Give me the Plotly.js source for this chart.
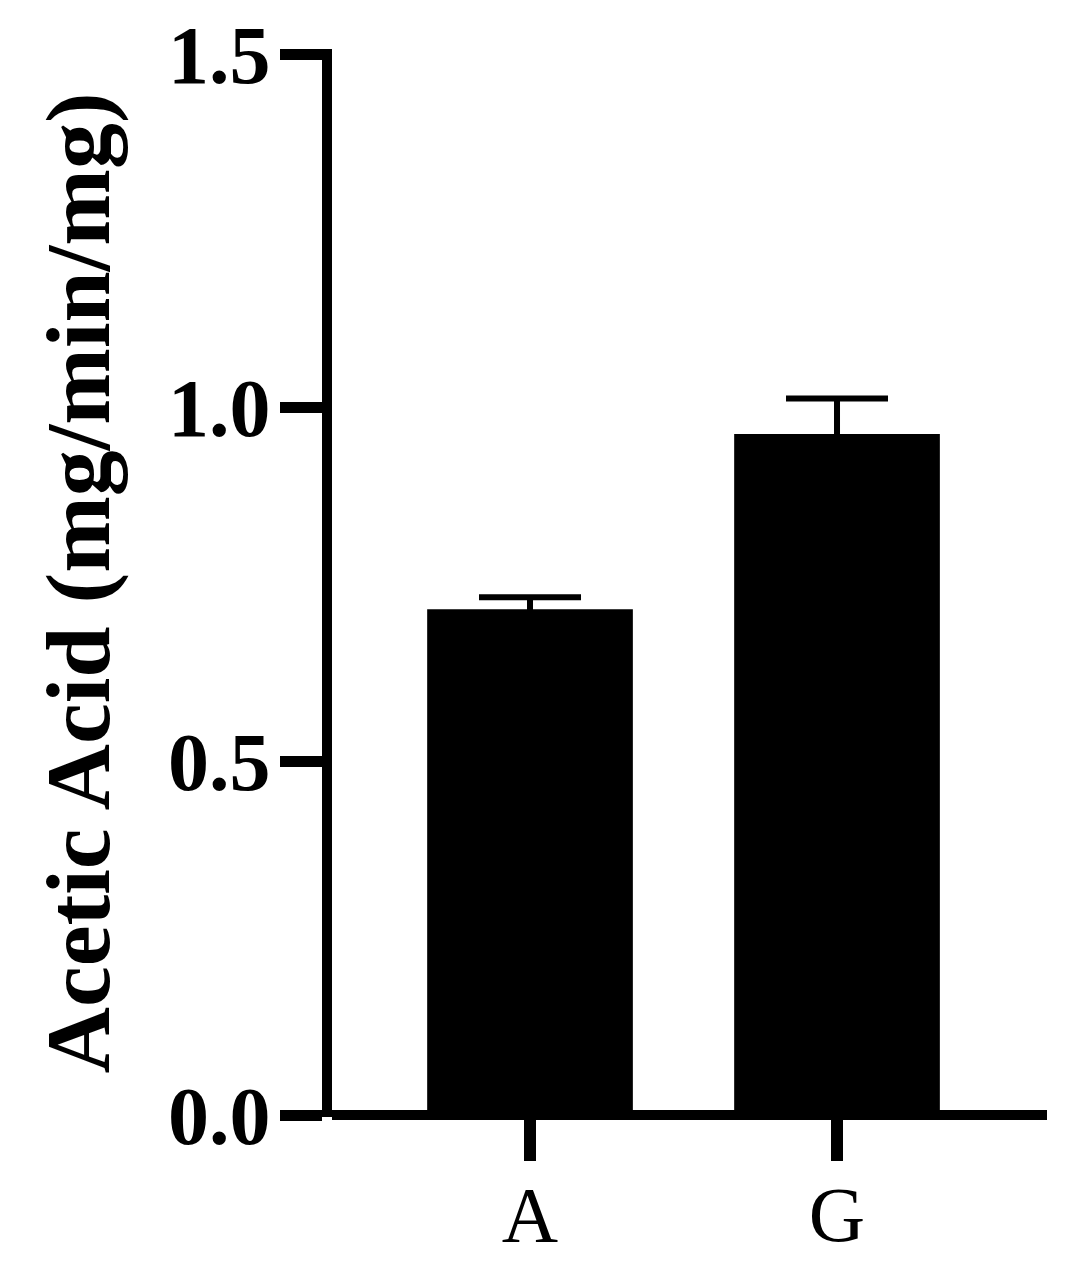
<!DOCTYPE html>
<html>
<head>
<meta charset="utf-8">
<script src="https://cdn.plot.ly/plotly-3.0.1.min.js"></script>
<style>html,body{margin:0;padding:0;background:#fff;}#chart{width:1070px;height:1279px;}</style>
</head>
<body>
<div id="chart"></div>
<script>
const categories = ['A', 'G'];
const acetic = [0.715, 0.963];
const aceticErr = [0.017, 0.050];
const yTicks = [0, 0.5, 1.0, 1.5];
const yTickText = ['0.0', '0.5', '1.0', '1.5'];
const yTitle = 'Acetic Acid (mg/min/mg)';

const trace = {
  type: 'bar',
  x: categories,
  y: acetic,
  marker: {color: '#000', line: {width: 0}},
  error_y: {type: 'data', array: aceticErr, visible: true, color: '#000', thickness: 6, width: 51},
  hoverinfo: 'skip'
};

const layout = {
  width: 1070, height: 1279,
  margin: {l: 332, r: 23, t: 49, b: 162, pad: 0},
  paper_bgcolor: '#fff', plot_bgcolor: '#fff',
  showlegend: false,
  bargap: 0.33,
  font: {family: 'Liberation Serif, Times New Roman, serif', color: '#000'},
  xaxis: {
    type: 'category',
    range: [-0.645, 1.684],
    showline: false, showgrid: false, zeroline: false,
    ticks: 'outside', ticklen: 43, tickwidth: 12, tickcolor: '#000',
    tickfont: {size: 78, family: 'Liberation Serif, serif', color: '#000'},
    ticklabelstandoff: -14
  },
  yaxis: {
    range: [-0.00283, 1.5072],
    showline: true, linewidth: 10, linecolor: '#000',
    showgrid: false,
    zeroline: true, zerolinewidth: 10, zerolinecolor: '#000',
    ticks: 'outside', ticklen: 42, tickwidth: 11, tickcolor: '#000',
    tickvals: yTicks, ticktext: yTickText,
    tickfont: {size: 82, family: 'Liberation Serif, serif', color: '#000', weight: 'bold'},
    ticklabelstandoff: -7,
    title: {text: yTitle, font: {size: 92, family: 'Liberation Serif, serif', color: '#000', weight: 'bold'}, standoff: 32}
  }
};

Plotly.newPlot('chart', [trace], layout, {staticPlot: true, displayModeBar: false});
</script>
</body>
</html>
